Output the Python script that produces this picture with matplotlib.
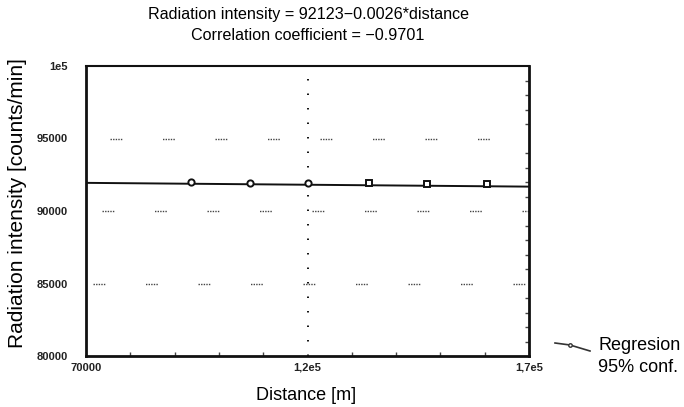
import matplotlib
matplotlib.use("Agg")
import matplotlib.pyplot as plt
from matplotlib.lines import Line2D
import numpy as np

plt.rcParams['font.family'] = ['Liberation Sans', 'DejaVu Sans']
plt.rcParams['lines.scale_dashes'] = False

# ---- data ----
intercept = 92123
slope = -0.0026
x_range = [70000, 170000]
y_range = [80000, 100000]
obs_x = [93600, 107000, 120100, 133900, 147000, 160500]
obs_y = [91990, 91950, 91910, 91900, 91860, 91840]
obs_marker = ['o', 'o', 'o', 's', 's', 's']
grid_y = [95000, 90000, 85000]
vline_x = 120000
yticks = [80000, 85000, 90000, 95000, 100000]
ytick_labels = ['80000', '85000', '90000', '95000', '1e5']
xticks = [70000, 120000, 170000]
xtick_labels = ['70000', '1,2e5', '1,7e5']
title_lines = ['Radiation intensity = 92123\u22120.0026*distance',
               'Correlation coefficient = \u22120.9701']
legend_labels = ['Regresion', '95% conf.']

fig = plt.figure(figsize=(6.84, 4.07), dpi=100)
W, H = 684, 407
L, R, T, B = 86, 529, 66, 356
ax = fig.add_axes([L / W, 1 - B / H, (R - L) / W, (B - T) / H])
ax.set_xlim(*x_range)
ax.set_ylim(*y_range)

# grid fragments (dotted short dashes)
px = 0.72
dot = [1.4 * px, 1.2 * px] * 5
period = 52.5
offsets = [24, 16, 7]
for gy, off in zip(grid_y, offsets):
    pattern = dot[:-1] + [period * px - sum(dot[:-1])]
    ax.plot(x_range, [gy, gy], color='#444444', lw=1.0,
            linestyle=((period - off) * px, pattern), zorder=1)

# vertical dotted line
ax.axvline(vline_x, color='#111111', lw=1.4, dashes=(1.5 * px, 13 * px), zorder=1)

# regression line
xs = np.array(x_range, dtype=float)
ax.plot(xs, intercept + slope * xs, color='#111111', lw=1.4, zorder=2)

# observations
for x, y, m in zip(obs_x, obs_y, obs_marker):
    ax.plot([x], [y], marker=m, ms=4.5, mfc='white', mec='#111111', mew=1.4,
            ls='none', zorder=3)

ax.set_xticks(xticks)
ax.set_xticklabels(xtick_labels)
ax.set_yticks(yticks)
ax.set_yticklabels(ytick_labels)
ax.tick_params(axis='both', length=0, labelsize=8, labelcolor='#222222')
ax.tick_params(axis='y', pad=13)
ax.tick_params(axis='x', pad=5)
for lab in ax.get_xticklabels() + ax.get_yticklabels():
    lab.set_fontweight('bold')

# minor inward ticks
ax.set_xticks(np.arange(80000, 170000, 10000), minor=True)
ax.set_yticks(np.arange(81000, 100000, 1000), minor=True)
ax.tick_params(which='minor', direction='in', length=3, width=1, color='#444444',
               left=False, right=True, bottom=True, top=False)

for s, w in [('left', 2), ('bottom', 2), ('right', 2), ('top', 1.5)]:
    ax.spines[s].set_linewidth(w)
    ax.spines[s].set_color('#111111')

fig.text(306 / W, 1 - 395 / H, 'Distance [m]', ha='center', va='center', fontsize=13)
fig.text(18 / W, 1 - 203 / H, 'Radiation intensity [counts/min]', ha='center',
         va='center', rotation=90, fontsize=15)

fig.text(308 / W, 1 - 14 / H, title_lines[0], ha='center', va='center', fontsize=11.6)
fig.text(308 / W, 1 - 36 / H, title_lines[1], ha='center', va='center', fontsize=11.6)

# legend (manual)
fig.add_artist(Line2D([555 / W, 570 / W, 590 / W], [1 - 343 / H, 1 - 345 / H, 1 - 351 / H],
                      color='#333333', lw=1.2, marker='o', ms=2.5, mfc='white',
                      mec='#333333', markevery=[1], transform=fig.transFigure))
fig.text(598 / W, 1 - 345 / H, legend_labels[0], ha='left', va='center', fontsize=13)
fig.text(598 / W, 1 - 368 / H, legend_labels[1], ha='left', va='center', fontsize=13)

fig.savefig('out.png', dpi=100)
